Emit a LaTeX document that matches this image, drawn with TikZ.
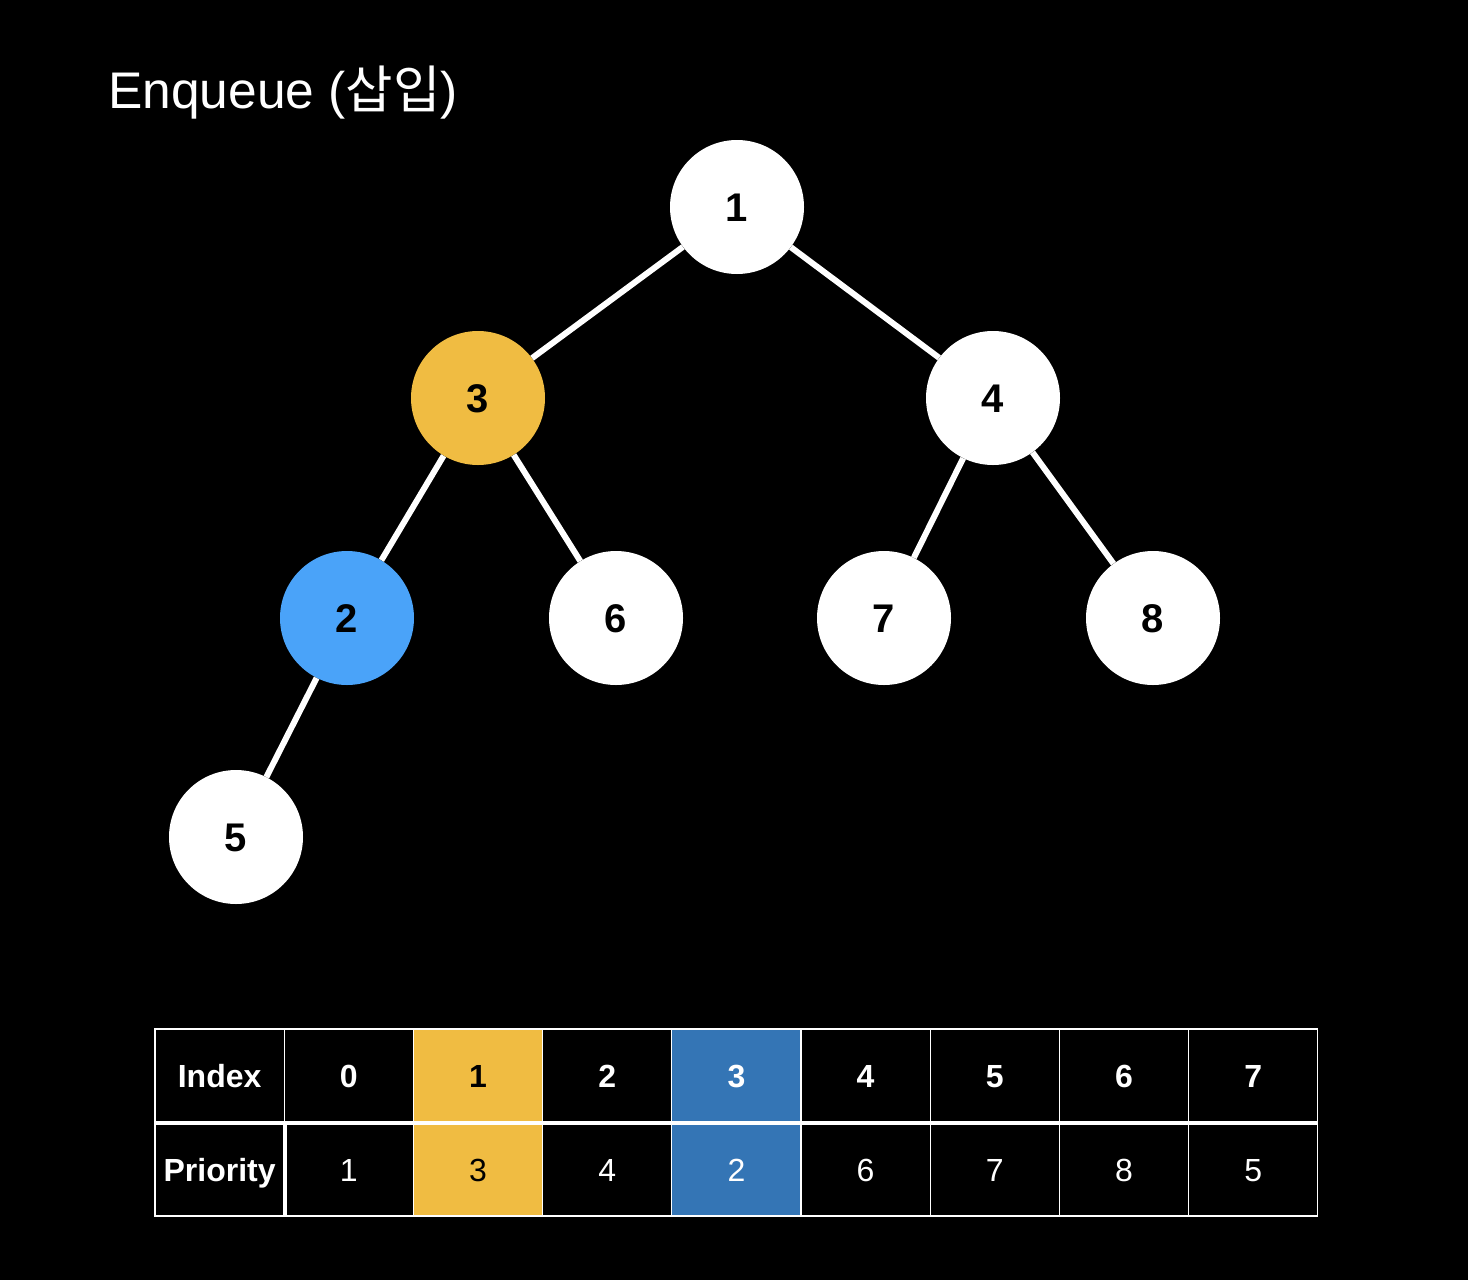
\documentclass[tikz,border=0pt]{standalone}
\usepackage{fontspec}
\setmainfont{Liberation Sans}
\newfontfamily\krfont{Noto Sans CJK KR}
\definecolor{hyellow}{RGB}{240,188,66}
\definecolor{hblue}{RGB}{74,163,249}
\definecolor{tblue}{RGB}{52,117,181}
\begin{document}
\begin{tikzpicture}[x=1pt,y=-1pt,
  hnode/.style={circle, minimum size=134pt, inner sep=0pt, fill=white, text=black,
    text height=29pt, text depth=0pt, font=\fontsize{40}{40}\selectfont\bfseries},
  edge/.style={white, line width=6pt},
  cell/.style={rectangle, draw=white, line width=1.2pt, minimum width=129.2pt,
    minimum height=93pt, inner sep=0pt, text=white, text height=23pt, text depth=0pt,
    font=\fontsize{32}{32}\selectfont},
  bcell/.style={cell, font=\fontsize{32}{32}\selectfont\bfseries},
  sep/.style={white, line width=4pt}]
\fill[black] (0,0) rectangle (1468,1280);
\useasboundingbox (0,0) rectangle (1468,1280);

\node[anchor=base west, text=white, inner sep=0pt, font=\fontsize{51.5}{52}\selectfont] (title) at (108,108) {Enqueue ({\krfont 삽입})};

% heap tree
\node[hnode] (n1) at (737,207) {1};
\node[hnode, fill=hyellow] (n3) at (478,398) {3};
\node[hnode] (n4) at (993,398) {4};
\node[hnode, fill=hblue] (n2) at (347,618) {2};
\node[hnode] (n6) at (616,618) {6};
\node[hnode] (n7) at (884,618) {7};
\node[hnode] (n8) at (1153,618) {8};
\node[hnode] (n5) at (236,837) {5};

\draw[edge] (n1) -- (n3);
\draw[edge] (n1) -- (n4);
\draw[edge] (n3) -- (n2);
\draw[edge] (n3) -- (n6);
\draw[edge] (n4) -- (n7);
\draw[edge] (n4) -- (n8);
\draw[edge] (n2) -- (n5);

% table: index row
\node[bcell] (ih) at (219.6,1075.5) {Index};
\node[bcell] (i0) at (348.8,1075.5) {0};
\node[bcell, fill=hyellow, text=black] (i1) at (478,1075.5) {1};
\node[bcell] (i2) at (607.2,1075.5) {2};
\node[bcell, fill=tblue] (i3) at (736.4,1075.5) {3};
\node[bcell] (i4) at (865.6,1075.5) {4};
\node[bcell] (i5) at (994.8,1075.5) {5};
\node[bcell] (i6) at (1124,1075.5) {6};
\node[bcell] (i7) at (1253.2,1075.5) {7};
% priority row
\node[bcell] (ph) at (219.6,1169.5) {Priority};
\node[cell] (p0) at (348.8,1169.5) {1};
\node[cell, fill=hyellow, text=black] (p1) at (478,1169.5) {3};
\node[cell] (p2) at (607.2,1169.5) {4};
\node[cell, fill=tblue] (p3) at (736.4,1169.5) {2};
\node[cell] (p4) at (865.6,1169.5) {6};
\node[cell] (p5) at (994.8,1169.5) {7};
\node[cell] (p6) at (1124,1169.5) {8};
\node[cell] (p7) at (1253.2,1169.5) {5};

\draw[sep] (ih.south west) -- (i7.south east);
\draw[sep] (ph.north east) -- (ph.south east);
\end{tikzpicture}
\end{document}
